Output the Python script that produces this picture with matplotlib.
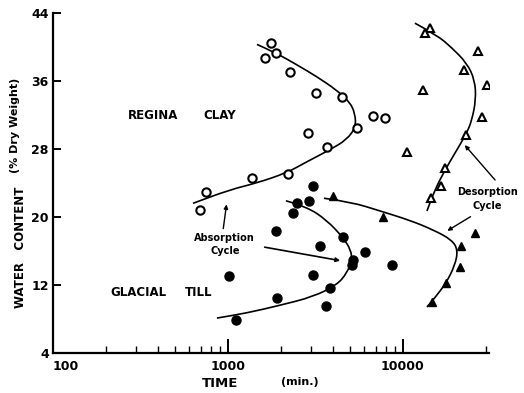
import numpy as np
import matplotlib.pyplot as plt
from matplotlib.path import Path
from matplotlib.patches import PathPatch
from matplotlib.ticker import FixedLocator, NullFormatter

# Regina clay, absorption (open circles)
clay_abs_t = [1762, 1879, 1626, 2259, 3184, 4480, 5460, 6740, 7890, 2865, 3680, 2202, 1371, 748, 692]
clay_abs_w = [40.5, 39.3, 38.7, 37.1, 34.6, 34.1, 30.5, 31.9, 31.6, 29.9, 28.2, 25.1, 24.6, 22.9, 20.8]
clay_abs_curve_t = [1466, 1880, 2479, 3226, 4197, 4977, 5318, 5386, 4786, 3828, 2827, 2174, 1466, 1026, 631]
clay_abs_curve_w = [40.3, 39.3, 37.9, 36.5, 34.9, 33.5, 32.2, 30.6, 29.1, 27.9, 26.5, 25.2, 24.0, 23.2, 21.6]

# Regina clay, desorption (open triangles)
clay_des_t = [14260, 13360, 26840, 22320, 30200, 13010, 28270, 22910, 10540, 17380, 16490, 14450]
clay_des_w = [42.2, 41.6, 39.5, 37.3, 35.5, 34.9, 31.8, 29.6, 27.6, 25.8, 23.6, 22.2]
clay_des_curve_t = [11710, 15640, 19050, 23200, 25770, 26130, 24790, 23200, 19830, 17380, 15240, 13720]
clay_des_curve_w = [42.8, 41.4, 39.9, 38.1, 36.1, 33.8, 31.4, 29.9, 27.5, 25.5, 23.2, 20.7]

# Glacial till, absorption (filled circles)
till_abs_t = [3060, 2904, 2479, 2352, 1880, 4540, 3355, 6067, 5179, 5112, 1013, 3060, 3828, 1905, 3631, 1111, 8650]
till_abs_w = [23.6, 21.9, 21.6, 20.5, 18.3, 17.6, 16.6, 15.9, 14.9, 14.3, 13.1, 13.2, 11.6, 10.5, 9.5, 7.9, 14.3]
till_abs_curve_t = [2144, 2827, 3680, 4540, 5047, 5112, 4786, 4197, 3060, 1983, 1284, 865]
till_abs_curve_w = [21.9, 21.2, 19.6, 17.6, 16.1, 14.9, 13.4, 12.0, 10.6, 9.6, 8.7, 8.1]

# Glacial till, desorption (filled triangles)
till_des_t = [3981, 7691, 21430, 21180, 17620, 14650, 25770]
till_des_w = [22.5, 20.0, 16.6, 14.1, 12.2, 10.0, 18.1]
till_des_curve_t = [3538, 4977, 7691, 10960, 14840, 19050, 20620, 19830, 17620, 15240, 13720]
till_des_curve_w = [22.2, 21.8, 20.6, 19.6, 18.5, 17.3, 16.1, 14.3, 12.2, 10.5, 9.4]

y_ticks = [4, 12, 20, 28, 36, 44]
x_ticks = [100, 1000, 10000]
x_tick_labels = ["100", "1000", "10000"]
x_minor = [200, 300, 400, 500, 600, 700, 800, 900,
           2000, 3000, 4000, 5000, 6000, 7000, 8000, 9000, 30000]


def smooth_curve(ax, t, w):
    # quadratic bezier through the read points (midpoints taken on the log axis)
    verts = [(t[0], w[0])]
    codes = [Path.MOVETO]
    for i in range(1, len(t) - 1):
        mid = (np.sqrt(t[i] * t[i + 1]), (w[i] + w[i + 1]) / 2)
        verts += [(t[i], w[i]), mid]
        codes += [Path.CURVE3, Path.CURVE3]
    verts.append((t[-1], w[-1]))
    codes.append(Path.LINETO)
    ax.add_patch(PathPatch(Path(verts, codes), fill=False, ec="black", lw=1.2))


fig = plt.figure(figsize=(5.24, 3.93), dpi=100)
ax = fig.add_axes([0.101, 0.102, 0.832, 0.865])

ax.set_xscale("log")
ax.set_xlim(100, 31000)
ax.set_ylim(4, 44)

smooth_curve(ax, clay_abs_curve_t, clay_abs_curve_w)
smooth_curve(ax, clay_des_curve_t, clay_des_curve_w)
smooth_curve(ax, till_abs_curve_t, till_abs_curve_w)
smooth_curve(ax, till_des_curve_t, till_des_curve_w)

ax.plot(clay_abs_t, clay_abs_w, "o", ms=6, mfc="white", mec="black", mew=1.5, ls="none")
ax.plot(clay_des_t, clay_des_w, "^", ms=6, mfc="white", mec="black", mew=1.5, ls="none")
ax.plot(till_abs_t, till_abs_w, "o", ms=6.5, mfc="black", mec="black", ls="none")
ax.plot(till_des_t, till_des_w, "^", ms=6, mfc="black", mec="black", ls="none")

ax.spines["top"].set_visible(False)
ax.spines["right"].set_visible(False)
ax.spines["left"].set_linewidth(1.6)
ax.spines["bottom"].set_linewidth(1.6)

ax.set_yticks(y_ticks)
ax.set_yticklabels([str(v) for v in y_ticks])
ax.xaxis.set_major_locator(FixedLocator(x_ticks))
ax.set_xticklabels(x_tick_labels)
ax.xaxis.set_minor_locator(FixedLocator(x_minor))
ax.xaxis.set_minor_formatter(NullFormatter())
ax.tick_params(axis="y", direction="in", length=6, width=1.4, pad=3, labelsize=9)
ax.tick_params(axis="x", which="major", direction="in", length=10, width=1.4, pad=5, labelsize=9)
ax.tick_params(axis="x", which="minor", direction="in", length=5, width=1.0)
for lab in ax.get_xticklabels() + ax.get_yticklabels():
    lab.set_fontweight("bold")
ax.get_xticklabels()[0].set_horizontalalignment("left")

ax.text(268, 31.9, "REGINA", fontsize=8.5, fontweight="bold", va="center")
ax.text(720, 31.9, "CLAY", fontsize=8.5, fontweight="bold", va="center")
ax.text(212, 11.1, "GLACIAL", fontsize=8.5, fontweight="bold", va="center")
ax.text(568, 11.1, "TILL", fontsize=8.5, fontweight="bold", va="center")

ax.text(960, 16.8, "Absorption\nCycle", fontsize=7, fontweight="bold",
        ha="center", va="center", linespacing=1.4)
ax.annotate("", xy=(987, 21.8), xytext=(936, 18.3),
            arrowprops=dict(arrowstyle="-|>", color="black", lw=1.0, mutation_scale=6))
ax.annotate("", xy=(4540, 14.8), xytext=(1565, 16.5),
            arrowprops=dict(arrowstyle="-|>", color="black", lw=1.2, mutation_scale=6))

ax.text(30500, 22.1, "Desorption\nCycle", fontsize=7, fontweight="bold",
        ha="center", va="center", linespacing=1.4, clip_on=False)
ax.annotate("", xy=(22020, 28.7), xytext=(34450, 24.1), annotation_clip=False,
            arrowprops=dict(arrowstyle="-|>", color="black", lw=1.0, mutation_scale=6))
ax.annotate("", xy=(17380, 18.2), xytext=(25120, 20.2), annotation_clip=False,
            arrowprops=dict(arrowstyle="-|>", color="black", lw=1.0, mutation_scale=6))

fig.text(0.040, 0.37, "WATER   CONTENT", rotation=90, fontsize=8.5, fontweight="bold",
         ha="center", va="center")
fig.text(0.029, 0.682, "(% Dry Weight)", rotation=90, fontsize=8, fontweight="bold",
         ha="center", va="center")
fig.text(0.42, 0.025, "TIME", fontsize=9.5, fontweight="bold", ha="center", va="center")
fig.text(0.573, 0.028, "(min.)", fontsize=8, fontweight="bold", ha="center", va="center")

fig.savefig("out.png", dpi=100)
